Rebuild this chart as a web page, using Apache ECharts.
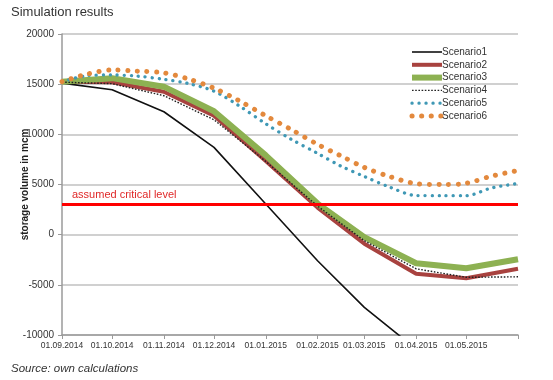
<!DOCTYPE html>
<html>
<head>
<meta charset="utf-8">
<script src="https://cdn.jsdelivr.net/npm/echarts@6/dist/echarts.min.js"></script>
<style>
  html, body { margin: 0; padding: 0; background: #ffffff; }
  #chart { width: 553px; height: 380px; }
</style>
</head>
<body>
<div id="chart"></div>
<script>
// ---- data ----
const monthDates = ['2014-09-01','2014-10-01','2014-11-01','2014-12-01','2015-01-01','2015-02-01','2015-03-01','2015-04-01','2015-05-01','2015-06-01'];
const halfMonthDates = ['2014-09-01','2014-09-16','2014-10-01','2014-10-16','2014-11-01','2014-11-16','2014-12-01','2014-12-16','2015-01-01','2015-01-16','2015-02-01','2015-02-15','2015-03-01','2015-03-16','2015-04-01','2015-04-16','2015-05-01','2015-05-16','2015-06-01'];
const scenario1 = [15100, 14450, 12250, 8700, 3050, -2600, -7250, -11400];
const scenario2 = [15250, 15200, 14250, 11850, 7350, 2700, -900, -3900, -4350, -3400];
const scenario3 = [15250, 15600, 14750, 12300, 7900, 3100, -250, -2850, -3350, -2450];
const scenario4 = [15200, 15050, 13850, 11450, 7300, 2850, -600, -3400, -4250, -4200];
const scenario5 = [15250, 15850, 15920, 15800, 15480, 15050, 14300, 12850, 11050, 9530, 8100, 6830, 5800, 4750, 3900, 3890, 3890, 4650, 5100];
const scenario6 = [15250, 16000, 16420, 16300, 16130, 15500, 14600, 13350, 11850, 10500, 9000, 7850, 6700, 5800, 5080, 4990, 5120, 5830, 6400];
const seriesNames = ['Scenario1','Scenario2','Scenario3','Scenario4','Scenario5','Scenario6'];
const criticalLevel = 3000;
const criticalLabel = 'assumed critical level';
const yTicks = [-10000, -5000, 0, 5000, 10000, 15000, 20000];
const xStart = '2014-09-01';
const xEnd = '2015-06-01';
const labelDates = monthDates.slice(0, 9);

// ---- helpers ----
function parseLocal(s) { const p = s.split('-').map(Number); return Date.UTC(p[0], p[1]-1, p[2]); }
function pairs(dates, vals) { return vals.map((v, i) => [parseLocal(dates[i]), v]); }
function pad(n) { return (n < 10 ? '0' : '') + n; }
function fmtDate(v) { const d = new Date(v); return pad(d.getUTCDate()) + '.' + pad(d.getUTCMonth()+1) + '.' + d.getUTCFullYear(); }

const FONT = 'Liberation Sans, Arial, sans-serif';
const chart = echarts.init(document.getElementById('chart'), null, { renderer: 'canvas' });

function lineSeries(name, data, style, extra) {
  return Object.assign({
    name: name, type: 'line', data: data, symbol: 'none', showSymbol: false,
    lineStyle: style, itemStyle: { color: style.color }, emphasis: { disabled: true }, animation: false
  }, extra || {});
}

const option = {
  animation: false,
  textStyle: { fontFamily: FONT },
  title: [
    { text: 'Simulation results', left: 11, top: 6, padding: 0,
      textStyle: { fontFamily: FONT, fontSize: 13, fontWeight: 'normal', color: '#333333' } },
    { text: 'Source: own calculations', left: 11, top: 363, padding: 0,
      textStyle: { fontFamily: FONT, fontSize: 11.5, fontWeight: 'normal', fontStyle: 'italic', color: '#333333' } }
  ],
  grid: { left: 62, right: 35, top: 34, bottom: 45, containLabel: false },
  legend: {
    orient: 'vertical', left: 409, top: 47, padding: 0,
    itemWidth: 30, itemHeight: 10, itemGap: 2.8,
    data: seriesNames,
    itemStyle: { opacity: 0 },
    lineStyle: { width: 'inherit', type: 'inherit', cap: 'inherit' },
    textStyle: { fontFamily: FONT, fontSize: 10, color: '#333333', lineHeight: 10, padding: [0, 0, 0, -5] },
    selectedMode: false
  },
  xAxis: {
    type: 'value',
    min: parseLocal(xStart), max: parseLocal(xEnd),
    axisLine: { onZero: false, lineStyle: { color: '#9a9a9a', width: 1.5 } },
    axisTick: { show: true, length: 4, lineStyle: { color: '#9a9a9a', width: 1 }, customValues: monthDates.map(parseLocal) },
    axisLabel: { customValues: labelDates.map(parseLocal), formatter: fmtDate, fontFamily: FONT, fontSize: 8.5, color: '#333333', margin: 6, hideOverlap: false },
    splitLine: { show: false }
  },
  yAxis: {
    type: 'value', min: yTicks[0], max: yTicks[yTicks.length-1], interval: 5000,
    name: 'storage volume in mcm', nameLocation: 'middle', nameGap: 31.5, nameMoveOverlap: false,
    nameTextStyle: { fontFamily: FONT, fontSize: 10, fontWeight: 'bold', color: '#222222' },
    axisLine: { show: true, lineStyle: { color: '#9a9a9a', width: 1.5 } },
    axisTick: { show: true, length: 4, lineStyle: { color: '#9a9a9a' } },
    axisLabel: { fontFamily: FONT, fontSize: 10, color: '#333333', margin: 8, formatter: v => String(v) },
    splitLine: { show: true, lineStyle: { color: '#c0c0c0', width: 1.5 } }
  },
  series: [
    lineSeries(seriesNames[0], pairs(monthDates, scenario1), { color: '#111111', width: 1.6 }),
    lineSeries(seriesNames[1], pairs(monthDates, scenario2), { color: '#A8423F', width: 4 }),
    lineSeries(seriesNames[2], pairs(monthDates, scenario3), { color: '#8DB152', width: 6 }),
    lineSeries(seriesNames[3], pairs(monthDates, scenario4), { color: '#222222', width: 1.4, type: [1.6, 1.6] }),
    lineSeries(seriesNames[4], pairs(halfMonthDates, scenario5), { color: '#3F98B5', width: 3.3, type: [0.1, 6.9], cap: 'round' }, { smooth: 0.3 }),
    lineSeries(seriesNames[5], pairs(halfMonthDates, scenario6), { color: '#E3893D', width: 5, type: [0.1, 9.5], cap: 'round' }, { smooth: 0.3 }),
    {
      name: 'critical', type: 'line', data: [], z: 10, animation: false,
      markLine: {
        silent: true, symbol: 'none', animation: false,
        lineStyle: { color: '#FF0000', width: 3, type: 'solid' },
        label: { show: true, position: 'insideStartTop', formatter: criticalLabel, color: '#E02828', fontFamily: FONT, fontSize: 11, distance: [10, 4] },
        data: [{ yAxis: criticalLevel }]
      }
    }
  ]
};
chart.setOption(option);
</script>
</body>
</html>
